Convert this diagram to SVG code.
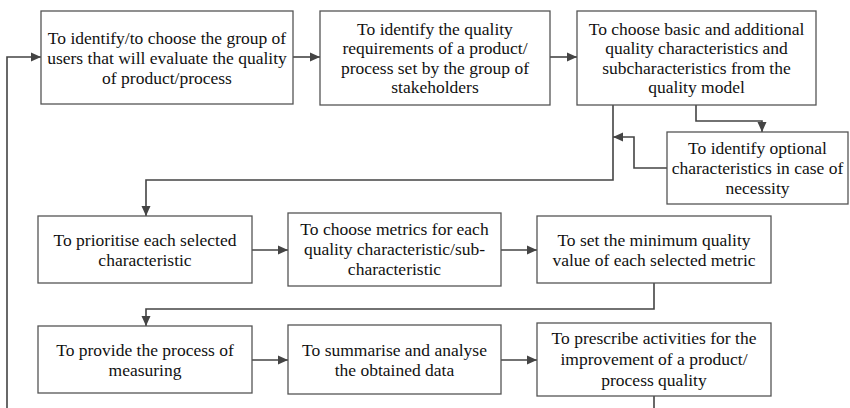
<svg xmlns="http://www.w3.org/2000/svg" width="850" height="408" viewBox="0 0 850 408">
  <style>
    .box { fill: #ffffff; stroke: #555555; stroke-width: 1.3; }
    .lbl { font-family: "Liberation Serif", "Times New Roman", serif; font-size: 17.5px; fill: #111111; text-anchor: middle; }
    .wire { fill: none; stroke: #444444; stroke-width: 1.6; }
  </style>
  <defs>
    <marker id="arrow" viewBox="0 0 10 10" refX="10" refY="5" markerWidth="10" markerHeight="10" markerUnits="userSpaceOnUse" orient="auto">
      <path d="M0,0.5 L10,5 L0,9.5 z" fill="#444444"/>
    </marker>
  </defs>
  <rect width="850" height="408" fill="#ffffff"/>

  <g id="connectors">
    <path class="wire" d="M293,57 H320" marker-end="url(#arrow)"/>
    <path class="wire" d="M550,57 H577" marker-end="url(#arrow)"/>
    <path class="wire" d="M696,105 V121 H762 V132" marker-end="url(#arrow)"/>
    <path class="wire" d="M667,168 H634 V137 H613" marker-end="url(#arrow)"/>
    <path class="wire" d="M613,105 V180 H146 V216" marker-end="url(#arrow)"/>
    <path class="wire" d="M252,250 H288" marker-end="url(#arrow)"/>
    <path class="wire" d="M501,250 H537" marker-end="url(#arrow)"/>
    <path class="wire" d="M654,283 V309 H146 V326" marker-end="url(#arrow)"/>
    <path class="wire" d="M252,360 H288" marker-end="url(#arrow)"/>
    <path class="wire" d="M501,360 H537" marker-end="url(#arrow)"/>
    <path class="wire" d="M654,396 V416 H7 V57 H41" marker-end="url(#arrow)"/>
  </g>

  <g id="select-users">
    <rect class="box" x="41" y="11" width="252" height="93"/>
    <text class="lbl" x="167" y="43.5">To identify/to choose the group of</text>
    <text class="lbl" x="167" y="63.5">users that will evaluate the quality</text>
    <text class="lbl" x="167" y="83.5">of product/process</text>
  </g>

  <g id="quality-requirements">
    <rect class="box" x="320" y="11" width="230" height="94"/>
    <text class="lbl" x="435" y="34.5">To identify the quality</text>
    <text class="lbl" x="435" y="54">requirements of a product/</text>
    <text class="lbl" x="435" y="73.5">process set by the group of</text>
    <text class="lbl" x="435" y="93">stakeholders</text>
  </g>

  <g id="choose-characteristics">
    <rect class="box" x="577" y="11" width="239" height="94"/>
    <text class="lbl" x="696.5" y="34.5">To choose basic and additional</text>
    <text class="lbl" x="696.5" y="54">quality characteristics and</text>
    <text class="lbl" x="696.5" y="73.5">subcharacteristics from the</text>
    <text class="lbl" x="696.5" y="93">quality model</text>
  </g>

  <g id="optional-characteristics">
    <rect class="box" x="667" y="132" width="181" height="72"/>
    <text class="lbl" x="757.5" y="154">To identify optional</text>
    <text class="lbl" x="757.5" y="174">characteristics in case of</text>
    <text class="lbl" x="757.5" y="194">necessity</text>
  </g>

  <g id="prioritise">
    <rect class="box" x="38" y="216" width="214" height="67"/>
    <text class="lbl" x="145" y="245.5">To prioritise each selected</text>
    <text class="lbl" x="145" y="265.5">characteristic</text>
  </g>

  <g id="choose-metrics">
    <rect class="box" x="288" y="213" width="213" height="73"/>
    <text class="lbl" x="394.5" y="235">To choose metrics for each</text>
    <text class="lbl" x="394.5" y="255">quality characteristic/sub-</text>
    <text class="lbl" x="394.5" y="275">characteristic</text>
  </g>

  <g id="minimum-value">
    <rect class="box" x="537" y="216" width="234" height="67"/>
    <text class="lbl" x="654" y="245.5">To set the minimum quality</text>
    <text class="lbl" x="654" y="265.5">value of each selected metric</text>
  </g>

  <g id="measuring">
    <rect class="box" x="38" y="326" width="214" height="67"/>
    <text class="lbl" x="145" y="355.5">To provide the process of</text>
    <text class="lbl" x="145" y="375.5">measuring</text>
  </g>

  <g id="analyse-data">
    <rect class="box" x="288" y="325" width="213" height="69"/>
    <text class="lbl" x="394.5" y="355.5">To summarise and analyse</text>
    <text class="lbl" x="394.5" y="375.5">the obtained data</text>
  </g>

  <g id="prescribe-activities">
    <rect class="box" x="537" y="323" width="234" height="73"/>
    <text class="lbl" x="654" y="344">To prescribe activities for the</text>
    <text class="lbl" x="654" y="365">improvement of a product/</text>
    <text class="lbl" x="654" y="386">process quality</text>
  </g>
</svg>
